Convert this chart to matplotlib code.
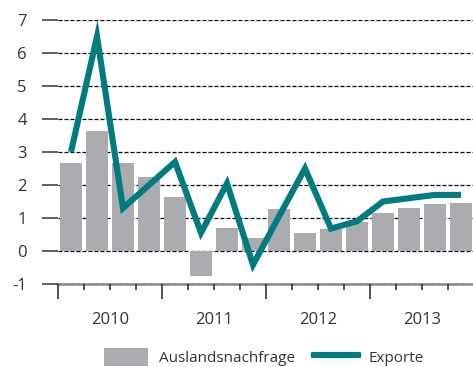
import matplotlib
matplotlib.use("Agg")
import matplotlib.pyplot as plt
from matplotlib.patches import Patch
from matplotlib.lines import Line2D
from matplotlib.transforms import blended_transform_factory

# Quarterly data 2010 Q1 - 2013 Q4, change in %
quarters = list(range(16))
auslandsnachfrage = [2.67, 3.64, 2.67, 2.23, 1.65, -0.76, 0.69, 0.39,
                     1.27, 0.55, 0.67, 0.88, 1.15, 1.30, 1.42, 1.45]
exporte = [3.0, 6.5, 1.3, 2.0, 2.7, 0.55, 2.05, -0.42,
           1.05, 2.5, 0.68, 0.9, 1.5, 1.6, 1.7, 1.7]
years = ["2010", "2011", "2012", "2013"]
y_ticks = [-1, 0, 1, 2, 3, 4, 5, 6, 7]

BAR_COLOR = "#abacb0"
LINE_COLOR = "#007b80"
TEXT_COLOR = "#333333"

plt.rcParams["font.family"] = ["Open Sans", "DejaVu Sans"]

fig = plt.figure(figsize=(4.73, 3.67), dpi=100)
ax = fig.add_axes([58 / 473, 1 - 284 / 367, 416 / 473, 264 / 367])

ax.bar(quarters, auslandsnachfrage, width=0.88, color=BAR_COLOR, zorder=2)
ax.plot(quarters, exporte, color=LINE_COLOR, linewidth=4.4,
        solid_joinstyle="miter", solid_capstyle="butt", zorder=3)

ax.set_xlim(-0.5, 15.5)
ax.set_ylim(-1, 7)

# y axis: ticks hanging out to the left, dashed grid across
ax.set_yticks(y_ticks)
ax.set_yticklabels([str(v) for v in y_ticks])
ax.tick_params(axis="y", length=11.5, width=1.2, color="#444444", pad=11,
               labelsize=12, labelcolor=TEXT_COLOR)
ax.grid(axis="y", color="black", linestyle=(0, (3.2, 1.6)), linewidth=0.9, zorder=1)

# x axis: long ticks at year boundaries, short ticks between quarters
major = [q - 0.5 for q in range(0, 17, 4)]
minor = [q + 0.5 for q in range(16) if (q + 1) % 4 != 0]
ax.set_xticks(major)
ax.set_xticklabels([])
ax.set_xticks(minor, minor=True)
ax.tick_params(axis="x", which="major", length=11, width=1.1, color="#222222")
ax.tick_params(axis="x", which="minor", length=4.5, width=1.1, color="#222222")

trans = blended_transform_factory(ax.transData, fig.transFigure)
for i, year in enumerate(years):
    ax.text(i * 4 + 1.5, 1 - 320 / 367, year, transform=trans, ha="center",
            va="center", fontsize=12, color=TEXT_COLOR)

for side in ("top", "right", "left"):
    ax.spines[side].set_visible(False)
ax.spines["bottom"].set_color("#8a8a8a")
ax.spines["bottom"].set_linewidth(1.8)
ax.spines["bottom"].set_zorder(0)

handles = [Patch(facecolor=BAR_COLOR, edgecolor="none"),
           Line2D([0], [0], color=LINE_COLOR, linewidth=4.4)]
fig.legend(handles, ["Auslandsnachfrage", "Exporte"], loc="center",
           bbox_to_anchor=(264 / 473, 1 - 357 / 367), ncol=2, frameon=False,
           fontsize=11, labelcolor=TEXT_COLOR, handlelength=2.9,
           handleheight=1.4, handletextpad=0.7, columnspacing=1.2,
           borderpad=0.1)

fig.savefig("out.png", dpi=100)
